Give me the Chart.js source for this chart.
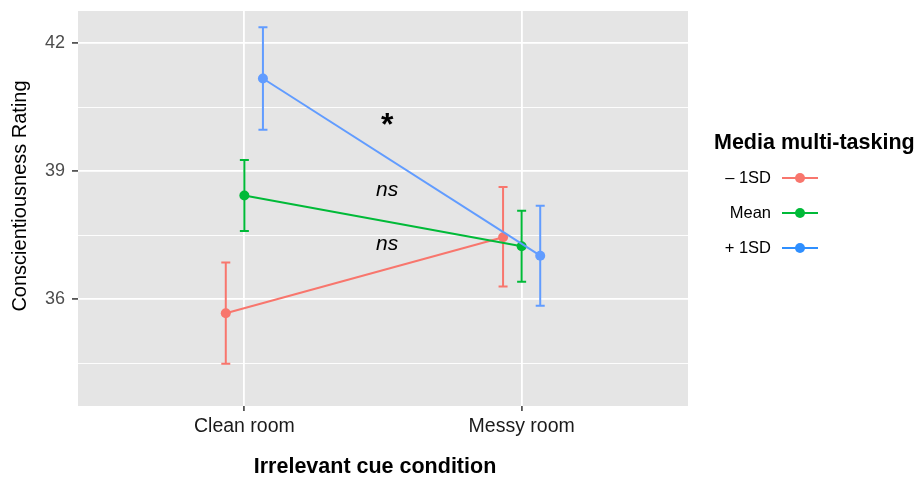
<!DOCTYPE html>
<html>
<head>
<meta charset="utf-8">
<script src="https://cdn.jsdelivr.net/npm/chart.js@4"></script>
<style>
  html, body { margin: 0; background: #fff; }
  #wrap { width: 922px; height: 477px; }
</style>
</head>
<body>
<div id="wrap"><canvas id="chart"></canvas></div>
<script>
// data
const categories = ['Clean room', 'Messy room'];
const groups = ['\u2013 1SD', 'Mean', '+ 1SD'];

const lowMean  = [35.67, 37.45];
const lowLo    = [34.49, 36.30];
const lowHi    = [36.86, 38.63];

const midMean  = [38.43, 37.24];
const midLo    = [37.60, 36.41];
const midHi    = [39.26, 38.07];

const highMean = [41.17, 37.02];
const highLo   = [39.97, 35.85];
const highHi   = [42.37, 38.19];

const yTicks = [34.5, 36, 37.5, 39, 40.5, 42];
const yLabels = [36, 39, 42];

const notes = ['*', 'ns', 'ns'];
const noteY = [40.13, 38.55, 37.30];
const noteX = 1.515;

const colors = ['#F8766D', '#00BA38', '#619CFF'];
const legendColors = ['#F8766D', '#00BA38', '#2F8FFF'];
const dodge = 0.067;
const FONT = "'Liberation Sans', Arial, Helvetica, sans-serif";

function pts(vals, g) {
  return vals.map((v, i) => ({ x: i + 1 + (g - 1) * dodge, y: v }));
}

const series = [
  { mean: lowMean, lo: lowLo, hi: lowHi },
  { mean: midMean, lo: midLo, hi: midHi },
  { mean: highMean, lo: highLo, hi: highHi },
];

const datasets = series.map((s, g) => ({
  label: groups[g],
  data: pts(s.mean, g),
  errLo: s.lo,
  errHi: s.hi,
  borderColor: colors[g],
  backgroundColor: colors[g],
  borderWidth: 2,
  pointRadius: 5,
  pointHoverRadius: 5,
  pointBorderWidth: 0,
  order: 2 - g,
}));

const panelBg = {
  id: 'panelBg',
  beforeDraw(chart) {
    const { ctx, chartArea: a } = chart;
    ctx.save();
    ctx.fillStyle = '#e5e5e5';
    ctx.fillRect(a.left, a.top, a.right - a.left, a.bottom - a.top);
    ctx.restore();
  }
};

const errorBars = {
  id: 'errorBars',
  beforeDatasetsDraw(chart) {
    const { ctx, scales: { x, y } } = chart;
    ctx.save();
    ctx.lineWidth = 2;
    chart.data.datasets.forEach(ds => {
      ctx.strokeStyle = ds.borderColor;
      ds.data.forEach((p, j) => {
        const px = x.getPixelForValue(p.x);
        const t = y.getPixelForValue(ds.errHi[j]);
        const b = y.getPixelForValue(ds.errLo[j]);
        ctx.beginPath();
        ctx.moveTo(px, t); ctx.lineTo(px, b);
        ctx.moveTo(px - 4.5, t); ctx.lineTo(px + 4.5, t);
        ctx.moveTo(px - 4.5, b); ctx.lineTo(px + 4.5, b);
        ctx.stroke();
      });
    });
    ctx.restore();
  }
};

const extras = {
  id: 'extras',
  afterDraw(chart) {
    const { ctx, chartArea: a, scales: { x, y } } = chart;
    ctx.save();
    ctx.fillStyle = '#000';
    ctx.textAlign = 'center';
    notes.forEach((n, i) => {
      const px = x.getPixelForValue(noteX);
      const py = y.getPixelForValue(noteY[i]);
      if (n === '*') {
        ctx.font = 'bold 32px ' + FONT;
        ctx.textBaseline = 'alphabetic';
        ctx.fillText(n, px, py + 12);
      } else {
        ctx.font = 'italic 21px ' + FONT;
        ctx.textBaseline = 'middle';
        ctx.fillText(n, px, py);
      }
    });

    // axis titles
    ctx.textBaseline = 'middle';
    ctx.font = 'bold 21.5px ' + FONT;
    ctx.fillText('Irrelevant cue condition', 375, 467);
    ctx.save();
    ctx.translate(20, 196);
    ctx.rotate(-Math.PI / 2);
    ctx.font = '20px ' + FONT;
    ctx.fillText('Conscientiousness Rating', 0, 0);
    ctx.restore();

    // legend
    const lx = a.right + 26;
    ctx.textAlign = 'left';
    ctx.font = 'bold 21.5px ' + FONT;
    ctx.fillText('Media multi-tasking', lx, 143);
    ctx.font = '16.5px ' + FONT;
    groups.forEach((g, i) => {
      const ly = 178 + i * 35;
      ctx.textAlign = 'right';
      ctx.fillStyle = '#000';
      ctx.fillText(g, a.right + 83, ly);
      ctx.strokeStyle = legendColors[i];
      ctx.fillStyle = legendColors[i];
      ctx.lineWidth = 2;
      ctx.beginPath();
      ctx.moveTo(a.right + 94, ly); ctx.lineTo(a.right + 130, ly);
      ctx.stroke();
      ctx.beginPath();
      ctx.arc(a.right + 112, ly, 5, 0, Math.PI * 2);
      ctx.fill();
    });
    ctx.restore();
  }
};

new Chart(document.getElementById('chart'), {
  type: 'line',
  data: { datasets },
  plugins: [panelBg, errorBars, extras],
  options: {
    responsive: true,
    maintainAspectRatio: false,
    animation: false,
    layout: { padding: { left: 0, right: 234, top: 11, bottom: 0 } },
    plugins: { legend: { display: false }, tooltip: { enabled: false } },
    scales: {
      x: {
        type: 'linear',
        min: 0.4,
        max: 2.6,
        afterBuildTicks: s => { s.ticks = categories.map((c, i) => ({ value: i + 1 })); },
        afterFit: s => { s.height = 71; s.paddingLeft = 0; s.paddingRight = 0; },
        ticks: {
          callback: v => categories[Math.round(v) - 1],
          color: '#1a1a1a',
          font: { family: FONT, size: 19.5 },
          padding: 4,
          maxRotation: 0,
        },
        grid: { color: '#ffffff', lineWidth: 1.8, tickLength: 5, tickColor: '#555', drawOnChartArea: true },
        border: { display: false },
      },
      y: {
        type: 'linear',
        min: 33.5,
        max: 42.75,
        afterBuildTicks: s => { s.ticks = yTicks.map(v => ({ value: v })); },
        afterFit: s => { s.width = 78; s.paddingTop = 0; s.paddingBottom = 0; },
        ticks: {
          callback: v => (yLabels.includes(v) ? String(v) : ''),
          color: '#4d4d4d',
          font: { family: FONT, size: 18 },
          padding: 7,
        },
        grid: {
          color: '#ffffff',
          lineWidth: c => (c.tick && yLabels.includes(c.tick.value) ? 1.8 : 0.9),
          tickLength: 6,
          tickColor: c => (c.tick && yLabels.includes(c.tick.value) ? '#555' : 'rgba(0,0,0,0)'),
        },
        border: { display: false },
      },
    },
  },
});
</script>
</body>
</html>
